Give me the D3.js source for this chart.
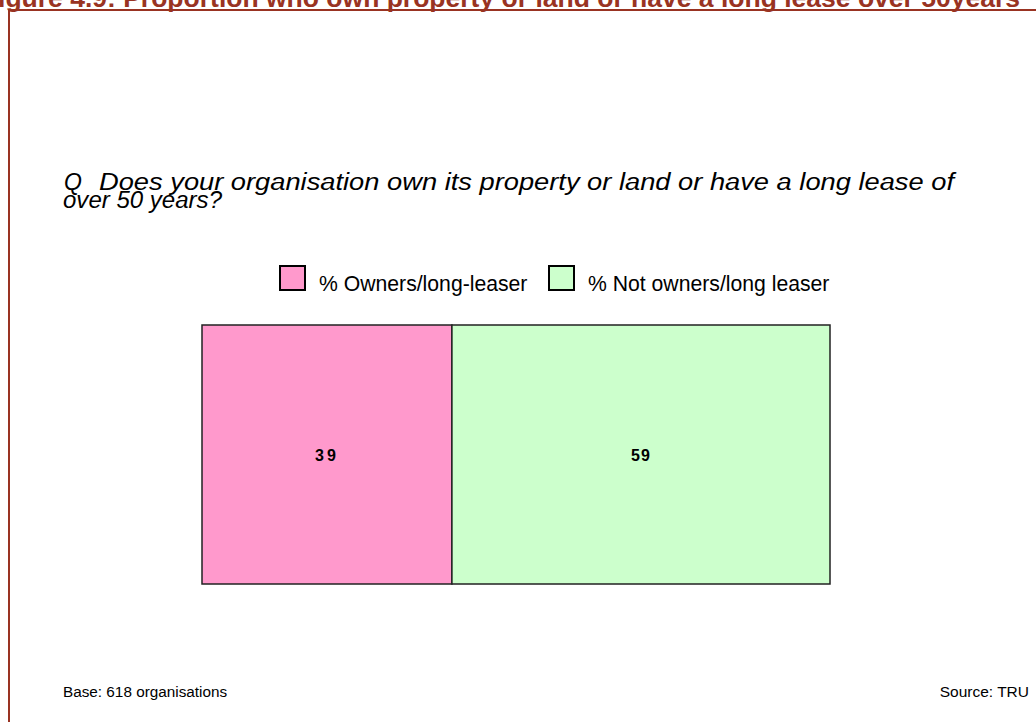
<!DOCTYPE html>
<html>
<head>
<meta charset="utf-8">
<script src="https://cdn.jsdelivr.net/npm/d3@7"></script>
<style>
  html, body { margin: 0; padding: 0; background: #fff; }
  svg { display: block; font-family: "Liberation Sans", Arial, sans-serif; }
</style>
</head>
<body>
<svg id="chart" width="1036" height="722"></svg>
<script>
// Survey answers, one stacked bar
const categories = ["% Owners/long-leaser", "% Not owners/long leaser"];
const values = [39, 59];
const colors = ["#ff99cc", "#ccffcc"];
const titleText = "Figure 4.9: Proportion who own property or land or have a long lease over 50years";
const questionMark = "Q";
const questionLines = [
  "Does your organisation own its property or land or have a long lease of",
  "over 50 years?"
];
const baseNote = "Base: 618 organisations";
const sourceNote = "Source: TRU";

const svg = d3.select("#chart");
const frameColor = "#993322";

// Figure title and frame
svg.append("text")
  .attr("x", 1020).attr("y", 7)
  .attr("text-anchor", "end")
  .attr("fill", frameColor)
  .attr("font-weight", "bold")
  .attr("font-size", 26.5)
  .text(titleText);
svg.append("line")
  .attr("x1", 8).attr("x2", 1036).attr("y1", 10).attr("y2", 10)
  .attr("stroke", frameColor).attr("stroke-width", 2);
svg.append("line")
  .attr("x1", 9).attr("x2", 9).attr("y1", 9).attr("y2", 722)
  .attr("stroke", frameColor).attr("stroke-width", 2);

// Question text (each line stretched to its set width)
const q = svg.append("g")
  .attr("font-style", "italic")
  .attr("font-size", 23)
  .attr("fill", "#000");
q.append("text").attr("x", 64).attr("y", 190).text(questionMark);
const lineSpec = [
  { x: 99, y: 190, len: 855 },
  { x: 63, y: 208, len: 159 }
];
q.selectAll("text.qline")
  .data(questionLines)
  .join("text")
  .attr("class", "qline")
  .attr("x", (d, i) => lineSpec[i].x)
  .attr("y", (d, i) => lineSpec[i].y)
  .attr("textLength", (d, i) => lineSpec[i].len)
  .attr("lengthAdjust", "spacingAndGlyphs")
  .text(d => d);

// Stacked layout
const row = [Object.fromEntries(categories.map((c, i) => [c, values[i]]))];
const stack = d3.stack().keys(categories)(row);

const x = d3.scaleLinear()
  .domain([0, d3.sum(values)])
  .range([202, 830]);
const y = d3.scaleBand()
  .domain(["all"])
  .range([325, 584])
  .padding(0);

const color = d3.scaleOrdinal().domain(categories).range(colors);

const seg = svg.append("g").selectAll("g")
  .data(stack)
  .join("g");

seg.append("rect")
  .attr("x", d => x(d[0][0]))
  .attr("y", y("all"))
  .attr("width", d => x(d[0][1]) - x(d[0][0]))
  .attr("height", y.bandwidth())
  .attr("fill", d => color(d.key))
  .attr("stroke", "#222")
  .attr("stroke-width", 1.5);

seg.append("text")
  .attr("x", d => (x(d[0][0]) + x(d[0][1])) / 2)
  .attr("y", y("all") + y.bandwidth() / 2 + 6)
  .attr("text-anchor", "middle")
  .attr("font-weight", "bold")
  .attr("font-size", 16)
  .attr("letter-spacing", (d, i) => i === 0 ? 3 : 1)
  .attr("fill", "#000")
  .text(d => d[0].data[d.key]);

// Legend
const legendX = [280, 549];
const legend = svg.append("g").selectAll("g")
  .data(categories)
  .join("g")
  .attr("transform", (d, i) => `translate(${legendX[i]},266)`);
legend.append("rect")
  .attr("width", 25).attr("height", 24)
  .attr("fill", d => color(d))
  .attr("stroke", "#000").attr("stroke-width", 2);
legend.append("text")
  .attr("x", 39).attr("y", 25)
  .attr("font-size", 21.2)
  .attr("fill", "#000")
  .text(d => d);

// Footer notes
svg.append("text")
  .attr("x", 63).attr("y", 697)
  .attr("font-size", 15.3)
  .text(baseNote);
svg.append("text")
  .attr("x", 1029).attr("y", 697)
  .attr("text-anchor", "end")
  .attr("font-size", 15.5)
  .text(sourceNote);
</script>
</body>
</html>
